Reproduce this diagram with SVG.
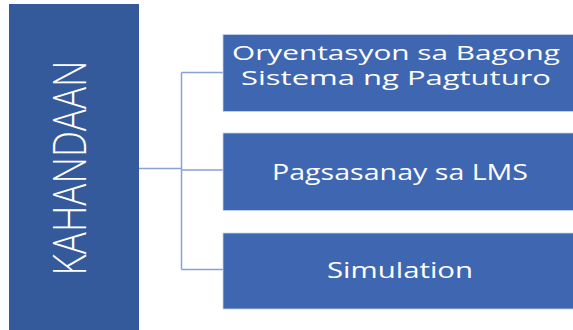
<svg xmlns="http://www.w3.org/2000/svg" width="573" height="330" viewBox="0 0 573 330">
<style>
.main{fill:#355a9b}
.box{fill:#3f66b0;stroke:#c9d3ea;stroke-width:0.8}
.t{fill:#ffffff;font-family:"Open Sans","Noto Sans",sans-serif;text-anchor:middle}
.conn{fill:none;stroke:#8aa0da;stroke-width:1.5}
</style>
<rect width="573" height="330" fill="#ffffff"/>
<g id="connectors">
<path class="conn" d="M139 168.5H181.5M181.5 72.5V269.5M181.5 72.5H223M181.5 170H223M181.5 269.5H223"/>
</g>
<g id="kahandaan">
<rect class="main" x="9" y="4" width="130" height="330"/>
<text class="t" x="0" y="0" font-size="46" font-weight="300" transform="translate(86 168) rotate(-90)" textLength="215" lengthAdjust="spacingAndGlyphs">KAHANDAAN</text>
</g>
<g id="oryentasyon">
<rect class="box" x="223" y="34.5" width="352" height="77"/>
<text class="t" x="396" y="59.5" font-size="20.5" textLength="328" lengthAdjust="spacingAndGlyphs">Oryentasyon sa Bagong</text>
<text class="t" x="396" y="84.5" font-size="20.5" textLength="310" lengthAdjust="spacingAndGlyphs">Sistema ng Pagtuturo</text>
</g>
<g id="pagsasanay">
<rect class="box" x="223" y="133" width="352" height="77.5"/>
<text class="t" x="400" y="180" font-size="21" textLength="256" lengthAdjust="spacingAndGlyphs">Pagsasanay sa LMS</text>
</g>
<g id="simulation">
<rect class="box" x="223" y="233" width="352" height="76"/>
<text class="t" x="400" y="278" font-size="21" textLength="146" lengthAdjust="spacingAndGlyphs">Simulation</text>
</g>
</svg>
